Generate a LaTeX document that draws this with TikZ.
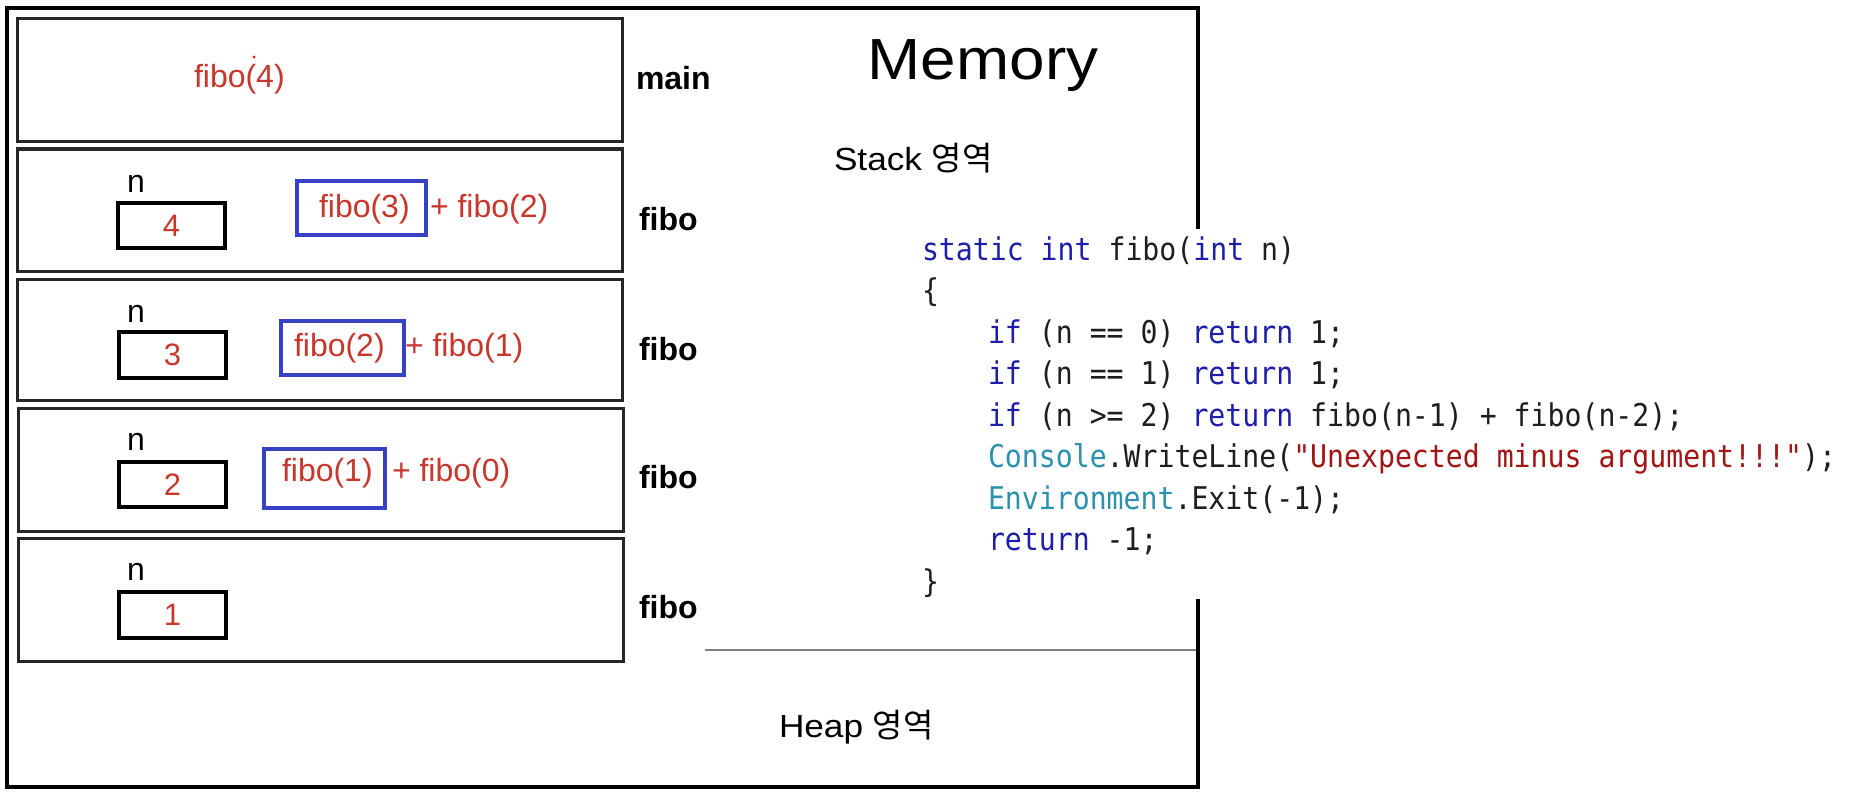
\documentclass[tikz,border=0pt]{standalone}
\usepackage{fontspec}
\setmainfont{Liberation Sans}
\newfontfamily\widesans[FakeStretch=1.1]{Liberation Sans}
\newfontfamily\kr{Noto Sans CJK KR}
\newfontfamily\codefont[FakeStretch=0.9]{DejaVu Sans Mono}
\definecolor{redtxt}{RGB}{200,55,45}
\definecolor{bluebox}{RGB}{55,65,195}
\definecolor{kw}{RGB}{30,30,170}
\definecolor{typ}{RGB}{43,145,175}
\definecolor{strc}{RGB}{163,21,21}
\definecolor{codeblack}{RGB}{30,30,30}
\begin{document}
\begin{tikzpicture}[x=1pt,y=-1pt,
  every node/.style={inner sep=0pt, outer sep=0pt},
  frame/.style={draw=black, line width=4pt},
  stackbox/.style={draw=black!85, line width=3pt},
  nbox/.style={draw=black, line width=4pt, text=redtxt, font=\fontsize{31}{36}\selectfont},
  callbox/.style={draw=bluebox, line width=4pt},
  redexpr/.style={anchor=base west, text=redtxt, font=\fontsize{32}{38}\selectfont},
  nlabel/.style={anchor=base, font=\fontsize{32}{38}\selectfont},
  framelabel/.style={anchor=base west, font=\bfseries\fontsize{32}{38}\selectfont},
  arealabel/.style={anchor=base west, font=\widesans\fontsize{32}{38}\selectfont},
  codeline/.style={anchor=base west, text=codeblack, font=\codefont\fontsize{31.3}{36}\selectfont}
]
\useasboundingbox (0,0) rectangle (1860,797);
\fill[white] (0,0) rectangle (1860,797);

% memory frame
\draw[frame] (7,8) rectangle (1198,787);
\fill[white] (1180,229) rectangle (1220,599);
\draw[gray, line width=1.5pt] (705,650) -- (1196,650);

\node[anchor=base, font=\widesans\fontsize{58}{68}\selectfont] (memory) at (983,80) {Memory};
\node[arealabel] (stack) at (834,171) {Stack {\kr\fontsize{33}{38}\selectfont 영역}};
\node[arealabel] (heap) at (779,737) {Heap {\kr\fontsize{33}{38}\selectfont 영역}};

% stack frames
\node[stackbox, minimum width=605, minimum height=123] (mainbox) at (319.5,80.5) {};
\node[stackbox, minimum width=605, minimum height=122] (f1) at (319.5,210) {};
\node[stackbox, minimum width=605, minimum height=121] (f2) at (319.5,339.5) {};
\node[stackbox, minimum width=605, minimum height=123] (f3) at (320.5,469.5) {};
\node[stackbox, minimum width=605, minimum height=123] (f4) at (320.5,599.5) {};

\node[framelabel] (lmain) at (636,90) {main};
\node[framelabel] (lf1) at (639,230) {fibo};
\node[framelabel] (lf2) at (639,360) {fibo};
\node[framelabel] (lf3) at (639,488) {fibo};
\node[framelabel] (lf4) at (639,618) {fibo};

% main
\node[redexpr] (call4) at (194,88) {fibo(4)};
\fill[red] (254,57) circle (1.5);

% n variables
\node[nlabel] (n1) at (136,192) {n};
\node[nlabel] (n2) at (136,322) {n};
\node[nlabel] (n3) at (136,450) {n};
\node[nlabel] (n4) at (136,580) {n};
\node[nbox, minimum width=107, minimum height=45] (v1) at (171.5,225.5) {4};
\node[nbox, minimum width=107, minimum height=46] (v2) at (172.5,355) {3};
\node[nbox, minimum width=107, minimum height=45] (v3) at (172.5,484.5) {2};
\node[nbox, minimum width=107, minimum height=46] (v4) at (172.5,615) {1};

% recursive calls
\node[callbox, minimum width=129, minimum height=54] (c1) at (361.5,208) {};
\node[callbox, minimum width=123, minimum height=54] (c2) at (342.5,348) {};
\node[callbox, minimum width=121, minimum height=59] (c3) at (324.5,478.5) {};
\node[redexpr] (e1a) at (319,217) {fibo(3)};
\node[redexpr] (e1b) at (430,217) {+ fibo(2)};
\node[redexpr] (e2a) at (294,356) {fibo(2)};
\node[redexpr] (e2b) at (405,356) {+ fibo(1)};
\node[redexpr] (e3a) at (282,481) {fibo(1)};
\node[redexpr] (e3b) at (392,481) {+ fibo(0)};

% code
\node[codeline] (l1) at (922,260) {\textcolor{kw}{static int} fibo(\textcolor{kw}{int} n)};
\node[codeline] (l2) at (922,301.5) {\{};
\node[codeline] (l3) at (988,343) {\textcolor{kw}{if} (n == 0) \textcolor{kw}{return} 1;};
\node[codeline] (l4) at (988,384.5) {\textcolor{kw}{if} (n == 1) \textcolor{kw}{return} 1;};
\node[codeline] (l5) at (988,426) {\textcolor{kw}{if} (n >= 2) \textcolor{kw}{return} fibo(n-1) + fibo(n-2);};
\node[codeline] (l6) at (988,467.5) {\textcolor{typ}{Console}.WriteLine(\textcolor{strc}{"Unexpected minus argument!!!"});};
\node[codeline] (l7) at (988,509) {\textcolor{typ}{Environment}.Exit(-1);};
\node[codeline] (l8) at (988,550.5) {\textcolor{kw}{return} -1;};
\node[codeline] (l9) at (922,592) {\}};
\end{tikzpicture}
\end{document}
